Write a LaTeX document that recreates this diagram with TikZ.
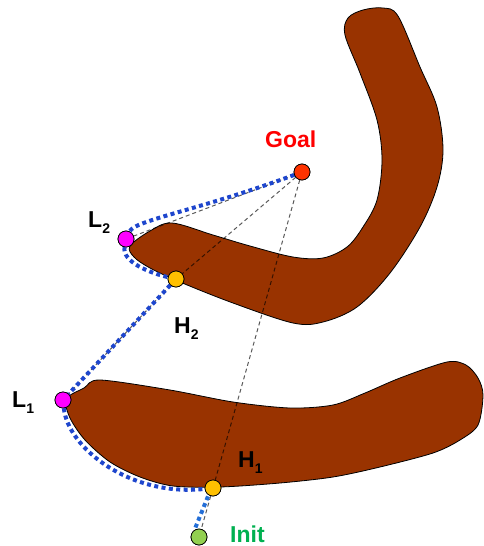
\documentclass[tikz,border=0pt]{standalone}
\usepackage{fontspec}
\setmainfont{Liberation Sans}
\newcommand{\lowsub}[1]{\raisebox{-0.28em}{\fontsize{14}{14}\selectfont #1}}
\definecolor{obst}{HTML}{993300}
\definecolor{goalc}{HTML}{FF3300}
\definecolor{lc}{HTML}{FF00FF}
\definecolor{hc}{HTML}{FFC000}
\definecolor{initc}{HTML}{92D050}
\definecolor{goaltxt}{HTML}{FF0000}
\definecolor{inittxt}{HTML}{00B050}
\definecolor{pathblue}{RGB}{30,70,205}
\definecolor{pathblue2}{RGB}{35,110,215}
\begin{document}
\begin{tikzpicture}[x=1pt,y=-1pt,
  obstacle/.style={fill=obst,draw=black,line width=0.8pt},
  wp/.style={circle,draw=black,line width=0.7pt,minimum size=16pt,inner sep=0pt},
  bluepath/.style={draw=pathblue,line width=4pt,dash pattern=on 4pt off 3.4pt},
  guide/.style={draw=black,opacity=0.65,line width=1pt,dash pattern=on 4pt off 3pt},
  lbl/.style={anchor=base west,inner sep=0pt,font=\bfseries\fontsize{23}{23}\selectfont}]
\useasboundingbox (0,0) rectangle (484,546);
% upper obstacle
\path[obstacle] plot[smooth cycle,tension=0.55] coordinates {
 (130,246) (150,231) (172,223) (213,235) (250,246) (293,257) (323,258)
 (347,247) (363,227) (377,200) (382,160) (377,120) (360,73) (345,35)
 (348,18) (363,10) (383,8) (398,16) (420,67) (437,107) (443,150)
 (437,187) (420,227) (390,273) (357,307) (323,322) (293,323) (233,303)
 (180,282) (150,268) (134,257)};
% lower obstacle
\path[obstacle] plot[smooth cycle,tension=0.5] coordinates {
 (66,399) (84,388) (100,380) (170,390) (233,402) (290,408) (333,405)
 (365,393) (400,378) (447,362) (466,365) (478,378) (483,395) (478,425)
 (460,440) (433,453) (380,467) (333,477) (280,483) (220,487) (173,486)
 (140,477) (110,462) (85,440) (70,418)};
% waypoints (placed first so connectors can name them)
\node[wp,fill=goalc] (goal) at (302,172) {};
\node[wp,fill=lc] (L2) at (126,239) {};
\node[wp,fill=hc] (H2) at (176,279) {};
\node[wp,fill=lc] (L1) at (63,400) {};
\node[wp,fill=hc] (H1) at (213,488) {};
\node[wp,fill=initc] (init) at (199,537) {};
% guide lines
\draw[guide] (goal) -- (L2);
\draw[guide] (goal) -- (H2);
\draw[guide] (H2) -- (L1);
\draw[guide] (goal) -- (H1);
\draw[guide] (H1) -- (init);
% planned path
\draw[bluepath] (goal) .. controls (200,210) and (135,220) .. (L2);
\draw[bluepath] (L2) .. controls (122,262) and (150,273) .. (H2);
\draw[bluepath] (H2) -- (L1);
\draw[bluepath] (L1) .. controls (68,448) and (130,497) .. (H1);
\draw[bluepath,draw=pathblue2] ([xshift=-5pt]H1.south) -- ([xshift=-4pt]init.north);
% redraw waypoints on top
\node[wp,fill=goalc] at (goal) {};
\node[wp,fill=lc] at (L2) {};
\node[wp,fill=hc] at (H2) {};
\node[wp,fill=lc] at (L1) {};
\node[wp,fill=hc] at (H1) {};
\node[wp,fill=initc] at (init) {};
% labels
\node[lbl,text=goaltxt] (tgoal) at (265,147) {Goal};
\node[lbl] (tL2) at (88,227) {L\lowsub{2}};
\node[lbl] (tH2) at (174,333) {H\lowsub{2}};
\node[lbl] (tL1) at (12,407) {L\lowsub{1}};
\node[lbl] (tH1) at (238,467) {H\lowsub{1}};
\node[lbl,text=inittxt] (tinit) at (230,542) {Init};
\end{tikzpicture}
\end{document}
